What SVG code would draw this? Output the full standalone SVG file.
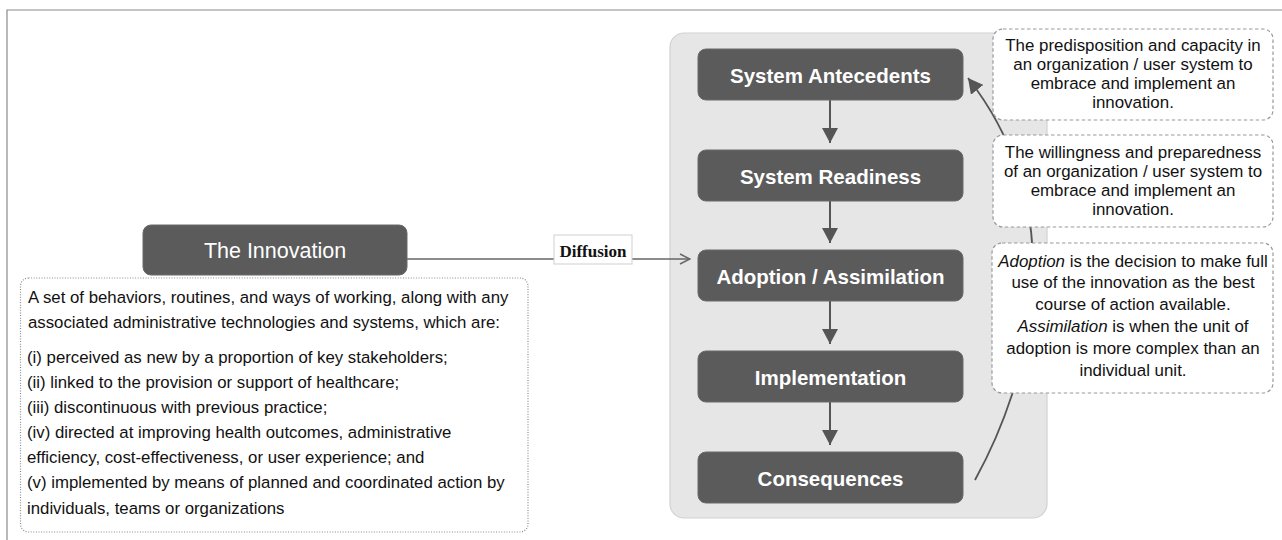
<svg xmlns="http://www.w3.org/2000/svg" width="1282" height="540" viewBox="0 0 1282 540">
<style>
.stage{fill:#5b5b5b;stroke:#6a6a6a;stroke-width:1}
.stxt{font-family:"Liberation Sans",Arial,sans-serif;font-size:20.5px;font-weight:bold;fill:#ffffff;text-anchor:middle}
.desc{font-family:"Liberation Sans",Arial,sans-serif;font-size:16.8px;fill:#111111}
.note{fill:#ffffff;stroke:#9a9a9a;stroke-width:1.2;stroke-dasharray:3.5 2.5}
.ntxt{font-family:"Liberation Sans",Arial,sans-serif;font-size:16.9px;fill:#111111;text-anchor:middle}
.vline{stroke:#555555;stroke-width:2;fill:none}
</style>
<defs>
<marker id="tri" viewBox="0 0 16 16" refX="15" refY="8" markerWidth="16" markerHeight="16" markerUnits="userSpaceOnUse" orient="auto">
<path d="M0,0 L15,8 L0,16 Z" fill="#555555"/>
</marker>
<marker id="open" viewBox="0 0 12 12" refX="11" refY="6" markerWidth="12" markerHeight="12" markerUnits="userSpaceOnUse" orient="auto">
<path d="M1,1 L11,6 L1,11" fill="none" stroke="#666666" stroke-width="1.5"/>
</marker>
</defs>
<rect x="0" y="0" width="1282" height="540" fill="#ffffff"/>
<path d="M7,540 V10 H1282" fill="none" stroke="#8a8a8a" stroke-width="1.2"/>

<g id="panel">
<rect x="670" y="33" width="377" height="485" rx="14" fill="#e6e6e6" stroke="#d2d2d2" stroke-width="1.2"/>
</g>

<g id="connectors">
<line x1="407" y1="259" x2="690" y2="259" stroke="#666666" stroke-width="1.5" marker-end="url(#open)"/>
<line class="vline" x1="830" y1="100" x2="830" y2="143" marker-end="url(#tri)"/>
<line class="vline" x1="830" y1="201" x2="830" y2="243" marker-end="url(#tri)"/>
<line class="vline" x1="830" y1="301" x2="830" y2="344" marker-end="url(#tri)"/>
<line class="vline" x1="830" y1="402" x2="830" y2="445" marker-end="url(#tri)"/>
<path d="M975,480 C1030,380 1075,215 968,78" stroke="#555555" stroke-width="1.8" fill="none" marker-end="url(#tri)"/>
<g id="diffusion-label">
<rect x="554" y="235" width="78" height="29" fill="#ffffff" stroke="#cfcfcf" stroke-width="1"/>
<text x="593" y="257" font-family="'Liberation Serif','Times New Roman',serif" font-size="17" font-weight="bold" fill="#111111" text-anchor="middle">Diffusion</text>
</g>
</g>

<g id="innovation">
<rect x="143" y="225" width="264" height="50" rx="8" fill="#5b5b5b" stroke="#6a6a6a" stroke-width="1"/>
<text x="275" y="257.5" font-family="'Liberation Sans',Arial,sans-serif" font-size="21.5" fill="#ffffff" text-anchor="middle">The Innovation</text>
</g>

<g id="innovation-definition">
<rect x="20.5" y="278" width="507.5" height="254" rx="8" fill="#ffffff" stroke="#8a8a8a" stroke-width="1.2" stroke-dasharray="1 1.6"/>
<text class="desc" x="28" y="303">A set of behaviors, routines, and ways of working, along with any</text>
<text class="desc" x="28" y="328">associated administrative technologies and systems, which are:</text>
<text class="desc" x="27" y="363">(i) perceived as new by a proportion of key stakeholders;</text>
<text class="desc" x="27" y="388">(ii) linked to the provision or support of healthcare;</text>
<text class="desc" x="27" y="413">(iii) discontinuous with previous practice;</text>
<text class="desc" x="27" y="438">(iv) directed at improving health outcomes, administrative</text>
<text class="desc" x="27" y="463">efficiency, cost-effectiveness, or user experience; and</text>
<text class="desc" x="27" y="488">(v) implemented by means of planned and coordinated action by</text>
<text class="desc" x="27" y="514">individuals, teams or organizations</text>
</g>

<g id="system-antecedents">
<rect class="stage" x="698" y="49" width="265" height="51" rx="8"/>
<text class="stxt" x="830.5" y="82.5">System Antecedents</text>
</g>
<g id="system-readiness">
<rect class="stage" x="698" y="150" width="265" height="51" rx="8"/>
<text class="stxt" x="830.5" y="183.5">System Readiness</text>
</g>
<g id="adoption-assimilation">
<rect class="stage" x="698" y="250" width="265" height="51" rx="8"/>
<text class="stxt" x="830.5" y="283.5">Adoption / Assimilation</text>
</g>
<g id="implementation">
<rect class="stage" x="698" y="351" width="265" height="51" rx="8"/>
<text class="stxt" x="830.5" y="384.5">Implementation</text>
</g>
<g id="consequences">
<rect class="stage" x="698" y="452" width="265" height="51" rx="8"/>
<text class="stxt" x="830.5" y="485.5">Consequences</text>
</g>

<g id="note-antecedents">
<rect class="note" x="993" y="29" width="280" height="91" rx="10"/>
<text class="ntxt" x="1133" y="51">The predisposition and capacity in</text>
<text class="ntxt" x="1133" y="70">an organization / user system to</text>
<text class="ntxt" x="1133" y="89">embrace and implement an</text>
<text class="ntxt" x="1133" y="108">innovation.</text>
</g>
<g id="note-readiness">
<rect class="note" x="993" y="135" width="280" height="92" rx="10"/>
<text class="ntxt" x="1133" y="158">The willingness and preparedness</text>
<text class="ntxt" x="1133" y="177">of an organization / user system to</text>
<text class="ntxt" x="1133" y="196">embrace and implement an</text>
<text class="ntxt" x="1133" y="215">innovation.</text>
</g>
<g id="note-adoption">
<rect class="note" x="992" y="243" width="281" height="150" rx="10"/>
<text class="ntxt" x="1133" y="267"><tspan font-style="italic">Adoption</tspan> is the decision to make full</text>
<text class="ntxt" x="1133" y="288">use of the innovation as the best</text>
<text class="ntxt" x="1133" y="310">course of action available.</text>
<text class="ntxt" x="1133" y="332"><tspan font-style="italic">Assimilation</tspan> is when the unit of</text>
<text class="ntxt" x="1133" y="354">adoption is more complex than an</text>
<text class="ntxt" x="1133" y="376">individual unit.</text>
</g>
</svg>
